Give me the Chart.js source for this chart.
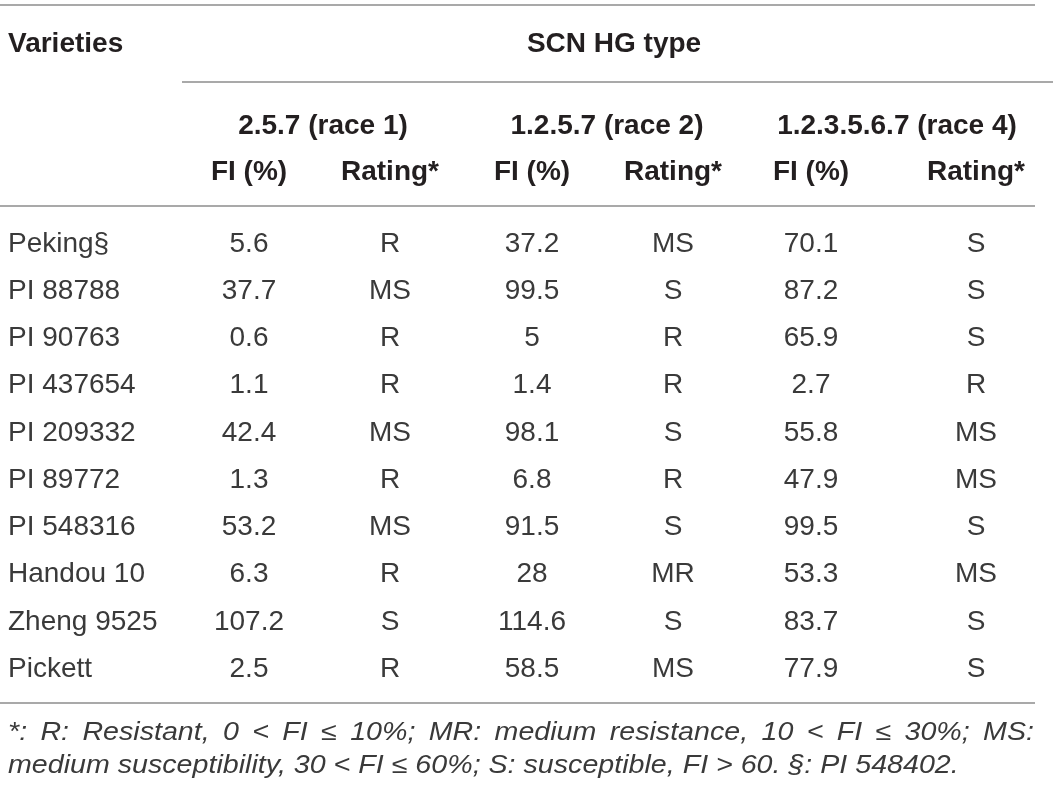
<!DOCTYPE html>
<html>
<head>
<meta charset="utf-8">
<title>SCN HG type ratings</title>
<script src="https://cdn.jsdelivr.net/npm/chart.js@4.4.0/dist/chart.umd.min.js"></script>
<style>
  html, body { margin: 0; padding: 0; background: #ffffff; }
  canvas { display: block; }
</style>
</head>
<body>
<canvas id="tabla" width="1053" height="789"></canvas>
<script>
// Tabla de índices de hembras (FI) por variedad y tipo HG de SCN.

var varieties = ['Peking§', 'PI 88788', 'PI 90763', 'PI 437654', 'PI 209332',
    'PI 89772', 'PI 548316', 'Handou 10', 'Zheng 9525', 'Pickett'];

var fiRace1 = [5.6, 37.7, 0.6, 1.1, 42.4, 1.3, 53.2, 6.3, 107.2, 2.5];
var ratingRace1 = ['R', 'MS', 'R', 'R', 'MS', 'R', 'MS', 'R', 'S', 'R'];

var fiRace2 = [37.2, 99.5, 5, 1.4, 98.1, 6.8, 91.5, 28, 114.6, 58.5];
var ratingRace2 = ['MS', 'S', 'R', 'R', 'S', 'R', 'S', 'MR', 'S', 'MS'];

var fiRace4 = [70.1, 87.2, 65.9, 2.7, 55.8, 47.9, 99.5, 53.3, 83.7, 77.9];
var ratingRace4 = ['S', 'S', 'S', 'R', 'MS', 'MS', 'S', 'MS', 'S', 'S'];

var firstHeader = 'Varieties';
var groupHeader = 'SCN HG type';
var raceLabels = ['2.5.7 (race 1)', '1.2.5.7 (race 2)', '1.2.3.5.6.7 (race 4)'];
var subLabels = ['FI (%)', 'Rating*'];

var footnoteLines = [
    '*: R: Resistant, 0 < FI ≤ 10%; MR: medium resistance, 10 < FI ≤ 30%; MS:',
    'medium susceptibility, 30 < FI ≤ 60%; S: susceptible, FI > 60. §: PI 548402.'
];

// Disposición (en unidades de las escalas, que equivalen a píxeles)
var colCenters = [249, 390, 532, 673, 811, 976];
var raceCenters = [323, 607, 897];
var leftX = 8;
var rightX = 1034;
var firstRowY = 241.5;
var rowStep = 47.25;
var midShift = 2.5;      // corrige el 'middle' del canvas al centro de mayúsculas
var footScaleX = 1.145;  // la itálica original es más ancha que Liberation

var BOLD = 'bold 28px "Liberation Sans", Arial, sans-serif';
var REGULAR = '28px "Liberation Sans", Arial, sans-serif';
var ITALIC = 'italic 25px "Liberation Sans", Arial, sans-serif';
var LINE_COLOR = '#8c8c8c';
var TEXT_COLOR = '#3a3a3a';
var HEAD_COLOR = '#231f20';

function formatFI(v) {
    return String(v);
}

function drawRule(ctx, x, py, x0, x1) {
    ctx.save();
    ctx.strokeStyle = LINE_COLOR;
    ctx.lineWidth = 1.5;
    ctx.beginPath();
    ctx.moveTo(x.getPixelForValue(x0), py);
    ctx.lineTo(x.getPixelForValue(x1), py);
    ctx.stroke();
    ctx.restore();
}

// Escribe una línea justificada entre x0 y x1 (coordenadas ya escaladas)
function drawJustified(ctx, text, x0, x1, y) {
    var words = text.split(' ');
    var total = 0;
    for (var i = 0; i < words.length; i++) {
        total += ctx.measureText(words[i]).width;
    }
    var gap = (x1 - x0 - total) / (words.length - 1);
    var pos = x0;
    for (var j = 0; j < words.length; j++) {
        ctx.fillText(words[j], pos, y);
        pos += ctx.measureText(words[j]).width + gap;
    }
}

var tablePlugin = {
    id: 'tablePlugin',
    beforeDraw: function (chart) {
        var ctx = chart.ctx;
        ctx.save();
        ctx.fillStyle = '#ffffff';
        ctx.fillRect(0, 0, chart.width, chart.height);
        ctx.restore();
    },
    afterDraw: function (chart) {
        var ctx = chart.ctx;
        var x = chart.scales.x;
        var y = chart.scales.y;

        // Líneas horizontales
        drawRule(ctx, x, y.getPixelForValue(5), 0, 1035);
        drawRule(ctx, x, y.getPixelForValue(82), 182, 1053);
        drawRule(ctx, x, y.getPixelForValue(206), 0, 1035);
        drawRule(ctx, x, y.getPixelForValue(703), 0, 1035);

        ctx.save();
        ctx.textBaseline = 'middle';

        // Encabezados
        ctx.font = BOLD;
        ctx.fillStyle = HEAD_COLOR;
        ctx.textAlign = 'left';
        ctx.fillText(firstHeader, x.getPixelForValue(leftX), y.getPixelForValue(41.5 + midShift));
        ctx.textAlign = 'center';
        ctx.fillText(groupHeader, x.getPixelForValue(614), y.getPixelForValue(41.5 + midShift));
        for (var r = 0; r < raceLabels.length; r++) {
            ctx.fillText(raceLabels[r], x.getPixelForValue(raceCenters[r]),
                y.getPixelForValue(124 + midShift));
        }
        for (var c = 0; c < colCenters.length; c++) {
            ctx.fillText(subLabels[c % 2], x.getPixelForValue(colCenters[c]),
                y.getPixelForValue(170 + midShift));
        }

        // Filas de datos
        var columns = [fiRace1, ratingRace1, fiRace2, ratingRace2, fiRace4, ratingRace4];
        ctx.font = REGULAR;
        ctx.fillStyle = TEXT_COLOR;
        for (var i = 0; i < varieties.length; i++) {
            var py = y.getPixelForValue(firstRowY + i * rowStep + midShift);
            ctx.textAlign = 'left';
            ctx.fillText(varieties[i], x.getPixelForValue(leftX), py);
            ctx.textAlign = 'center';
            for (var k = 0; k < columns.length; k++) {
                var val = columns[k][i];
                var txt = (k % 2 === 0) ? formatFI(val) : val;
                ctx.fillText(txt, x.getPixelForValue(colCenters[k]), py);
            }
        }

        // Nota al pie (itálica ensanchada en horizontal)
        ctx.font = ITALIC;
        ctx.textBaseline = 'alphabetic';
        ctx.textAlign = 'left';
        var fx0 = x.getPixelForValue(leftX);
        var fx1 = x.getPixelForValue(rightX);
        ctx.translate(fx0, 0);
        ctx.scale(footScaleX, 1);
        drawJustified(ctx, footnoteLines[0], 0, (fx1 - fx0) / footScaleX,
            y.getPixelForValue(740));
        ctx.fillText(footnoteLines[1], 0, y.getPixelForValue(773));
        ctx.restore();
    }
};

var context = document.getElementById('tabla').getContext('2d');
var chart = new Chart(context, {
    type: 'scatter',
    data: { datasets: [] },
    options: {
        responsive: false,
        animation: false,
        devicePixelRatio: 1,
        layout: { padding: 0 },
        plugins: { legend: { display: false }, tooltip: { enabled: false } },
        scales: {
            x: { type: 'linear', min: 0, max: 1053, display: false },
            y: { type: 'linear', min: 0, max: 789, reverse: true, display: false }
        }
    },
    plugins: [tablePlugin]
});
</script>
</body>
</html>
